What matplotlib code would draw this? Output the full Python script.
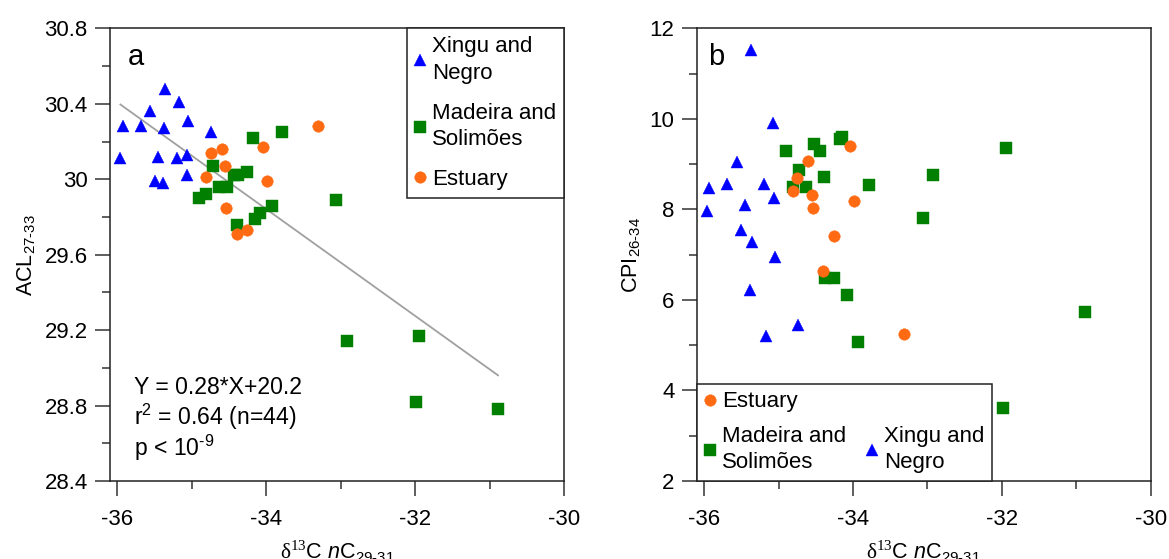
import numpy as np
import matplotlib
matplotlib.use("Agg")
import matplotlib.pyplot as plt
from matplotlib.lines import Line2D
from matplotlib.ticker import MultipleLocator, FormatStrFormatter

plt.rcParams["font.family"] = ["Liberation Sans", "DejaVu Sans"]
plt.rcParams["mathtext.fontset"] = "custom"
plt.rcParams["mathtext.rm"] = "Liberation Sans"
plt.rcParams["mathtext.it"] = "Liberation Sans:italic"
plt.rcParams["mathtext.sf"] = "Liberation Sans"
plt.rcParams["mathtext.tt"] = "Liberation Serif"
plt.rcParams["axes.unicode_minus"] = False

# --- Data ---
# Xingu and Negro
xn_d13c = [-35.96, -35.93, -35.69, -35.56, -35.50, -35.45, -35.39, -35.37,
           -35.36, -35.20, -35.17, -35.07, -35.06, -35.05, -34.74]
xn_acl = [30.11, 30.28, 30.28, 30.36, 29.99, 30.12, 29.98, 30.27,
          30.48, 30.11, 30.41, 30.02, 30.13, 30.31, 30.25]
xn_cpi = [7.97, 8.47, 8.56, 9.05, 7.54, 8.09, 6.23, 11.53,
          7.29, 8.56, 5.21, 9.90, 8.25, 6.94, 5.44]

# Madeira and Solimoes
ms_d13c = [-34.90, -34.81, -34.72, -34.63, -34.53, -34.44, -34.39, -34.38,
           -34.26, -34.18, -34.15, -34.08, -33.93, -33.79, -33.06, -32.92,
           -31.99, -31.95, -30.89]
ms_acl = [29.90, 29.92, 30.07, 29.96, 29.96, 30.02, 29.76, 30.02,
          30.04, 30.22, 29.79, 29.82, 29.86, 30.25, 29.89, 29.14,
          28.82, 29.17, 28.78]
ms_cpi = [9.28, 8.49, 8.86, 8.50, 9.44, 9.30, 8.71, 6.48,
          6.48, 9.55, 9.59, 6.10, 5.07, 8.54, 7.82, 8.75,
          3.61, 9.35, 5.73]

# Estuary
es_d13c = [-34.81, -34.75, -34.60, -34.55, -34.54, -34.40, -34.26, -34.04,
           -33.99, -33.31]
es_acl = [30.01, 30.14, 30.16, 30.07, 29.85, 29.71, 29.73, 30.17,
          29.99, 30.28]
es_cpi = [8.41, 8.70, 9.06, 8.31, 8.04, 6.64, 7.41, 9.39,
          8.19, 5.25]

C_XN = "#0000ff"
C_MS = "#007f00"
C_ES = "#ff6a13"

XLAB = r"$\mathtt{δ}^{\mathtt{13}}$C $n$C$_{29\text{-}31}$"

fig = plt.figure(figsize=(11.69, 5.59), dpi=100)
ax_a = fig.add_axes([0.0941, 0.1395, 0.3886, 0.8098])
ax_b = fig.add_axes([0.5960, 0.1395, 0.3884, 0.8098])


def style_axes(ax):
    ax.set_xlim(-36.1, -30)
    ax.xaxis.set_major_locator(MultipleLocator(2))
    ax.xaxis.set_minor_locator(MultipleLocator(1))
    ax.xaxis.set_major_formatter(FormatStrFormatter("%g"))
    ax.tick_params(which="both", direction="out", top=False, right=False,
                   color="#333333", width=1.1, labelsize=16)
    ax.tick_params(which="major", length=11)
    ax.tick_params(which="minor", length=5.5)
    ax.tick_params(axis="x", which="major", pad=9)
    ax.tick_params(axis="y", which="major", pad=5)
    for s in ax.spines.values():
        s.set_color("#222222")
        s.set_linewidth(1.1)
    ax.set_xlabel(XLAB, fontsize=15.5)
    ax.xaxis.set_label_coords(0.5, -0.128)


def scatter_groups(ax, yx, ym, ye):
    ax.plot(xn_d13c, yx, "^", ms=8, color=C_XN, mec=C_XN, mew=0.3,
            label="Xingu and\nNegro", zorder=3)
    ax.plot(ms_d13c, ym, "s", ms=8, color=C_MS, mec=C_MS, mew=0.3,
            label="Madeira and\nSolimões", zorder=3)
    ax.plot(es_d13c, ye, "o", ms=8.3, color=C_ES, mec=C_ES, mew=0.3,
            label="Estuary", zorder=4)


def finish_legend(leg):
    leg.get_frame().set_linewidth(1.1)
    for t in leg.get_texts():
        t.set_linespacing(1.35)


# --- Panel a: ACL ---
style_axes(ax_a)
ax_a.set_ylim(28.4, 30.8)
ax_a.yaxis.set_major_locator(MultipleLocator(0.4))
ax_a.yaxis.set_minor_locator(MultipleLocator(0.2))
ax_a.yaxis.set_major_formatter(FormatStrFormatter("%g"))

all_x = np.array(xn_d13c + ms_d13c + es_d13c)
all_acl = np.array(xn_acl + ms_acl + es_acl)
slope, intercept = np.polyfit(all_x, all_acl, 1)
xfit = np.array([all_x.min(), all_x.max()])
ax_a.plot(xfit, slope * xfit + intercept, color="#a0a0a0", lw=1.3, zorder=2)

scatter_groups(ax_a, xn_acl, ms_acl, es_acl)

ax_a.set_ylabel(r"ACL$_{27\text{-}33}$", fontsize=15.5)
ax_a.yaxis.set_label_coords(-0.159, 0.5)
ax_a.text(0.040, 0.919, "a", transform=ax_a.transAxes, fontsize=21,
          va="baseline", ha="left")

ax_a.text(0.053, 0.192, "Y = 0.28*X+20.2", transform=ax_a.transAxes,
          fontsize=16.6, va="baseline")
ax_a.text(0.053, 0.124, r"r$^{2}$ = 0.64 (n=44)", transform=ax_a.transAxes,
          fontsize=16.6, va="baseline")
ax_a.text(0.053, 0.055, r"p < 10$^{\text{-}9}$", transform=ax_a.transAxes,
          fontsize=16.6, va="baseline")

leg_a = ax_a.legend(loc="upper right", bbox_to_anchor=(1, 1), borderaxespad=0,
                    fontsize=16, frameon=True, fancybox=False, framealpha=1,
                    edgecolor="#222222", borderpad=0.35, handlelength=0.5,
                    handletextpad=0.3, labelspacing=0.85, numpoints=1)
finish_legend(leg_a)

# --- Panel b: CPI ---
style_axes(ax_b)
ax_b.set_ylim(2, 12)
ax_b.yaxis.set_major_locator(MultipleLocator(2))
ax_b.yaxis.set_minor_locator(MultipleLocator(1))
ax_b.yaxis.set_major_formatter(FormatStrFormatter("%g"))

scatter_groups(ax_b, xn_cpi, ms_cpi, es_cpi)

ax_b.set_ylabel(r"CPI$_{26\text{-}34}$", fontsize=15.5)
ax_b.yaxis.set_label_coords(-0.119, 0.5)
ax_b.text(0.026, 0.919, "b", transform=ax_b.transAxes, fontsize=21,
          va="baseline", ha="left")

h, l = ax_b.get_legend_handles_labels()
blank = Line2D([], [], linestyle="none", marker="none")
leg_b = ax_b.legend([h[2], h[1], blank, h[0]], [l[2], l[1], " ", l[0]],
                    loc="lower left", bbox_to_anchor=(0, 0), borderaxespad=0,
                    ncol=2, fontsize=16, frameon=True, fancybox=False,
                    framealpha=1, edgecolor="#222222", borderpad=0.35,
                    handlelength=0.5, handletextpad=0.3, labelspacing=0.6,
                    columnspacing=0.9, numpoints=1)
finish_legend(leg_b)

fig.savefig("out.png", dpi=100)
